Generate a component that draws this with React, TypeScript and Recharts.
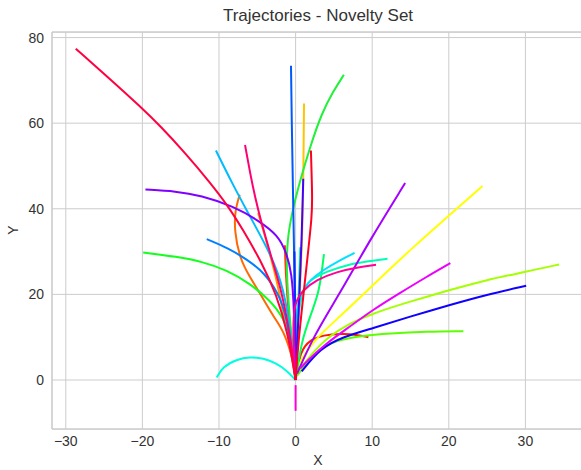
import { CartesianGrid, Line, LineChart, ReferenceLine, XAxis, YAxis } from 'recharts';

const xTicks = [-30, -20, -10, 0, 10, 20, 30];
const yTicks = [0, 20, 40, 60, 80];
const xDomain = [-31.8, 37.65];
const yDomain = [-11.45, 81.3];

// trajectories as [x, y] pairs, outer end first
const crimson = [[-28.7, 77.4], [-24.4, 70.6], [-20.1, 63.6], [-17.7, 59.4], [-14.4, 53], [-11.2, 46.2], [-8.8, 40.6], [-6.9, 35.2], [-4.4, 27.4], [-2.5, 20], [-1, 11], [0, 0]];
const redHook = [[9.5, 10], [8, 10.6], [6, 10.8], [3.6, 10.5], [1.9, 9.4], [0.6, 6.8], [0, 0]];
const redUp = [[2.0, 53.6], [2.2, 42], [2.1, 38], [1.7, 31], [1.0, 19.5], [0.3, 7.8], [0, 0]];
const redShort = [[-1.4, 31.5], [-1.3, 25], [-0.9, 15], [-0.3, 6], [0, 0]];
const orange = [[-7.3, 43.3], [-7.9, 39.7], [-8, 35], [-7.3, 28.4], [-6, 24.1], [-4.4, 19.5], [-2.9, 14.8], [-1.6, 11.7], [-0.3, 4.7], [0, 0]];
const amber = [[-4.9, 39], [-4.2, 35], [-3.3, 29], [-2.4, 23], [-1.6, 15], [-0.8, 9], [0, 0]];
const gold = [[1.1, 64.6], [1.05, 55], [1.0, 46.7], [0.9, 35], [0.6, 22], [0.3, 10], [0, 0]];
const yellow = [[24.4, 45.3], [14.9, 30.4], [9.9, 21.8], [5.8, 14.8], [2.3, 9.3], [0.2, 3]];
const chartreuse = [[34.4, 27], [30.2, 25.3], [24.9, 23.4], [20.1, 21], [14.9, 18.3], [10.1, 15.6], [6.2, 12.5], [3.2, 8.6], [0.3, 2]];
const lime = [[21.9, 11.4], [17.1, 11.3], [12.3, 10.9], [8.4, 10.3], [5.4, 9.3], [2.7, 7], [0.2, 1]];
const greenTall = [[6.3, 71.3], [4.9, 67.4], [3.4, 62.3], [1.9, 54.5], [0.6, 46.7], [-0.5, 38.9], [-1.1, 32.7], [-1.2, 25], [-0.8, 15], [0, 0]];
const greenLeft = [[-19.9, 29.8], [-15.5, 28.8], [-12.1, 27.6], [-9, 25.7], [-6, 22.6], [-3.4, 18.7], [-1.6, 14.8], [-0.3, 7.8], [0, 0]];
const springGreen = [[3.7, 29.4], [3.4, 24.9], [3.0, 20.3], [1.9, 14.8], [0.8, 9.3], [0, 0]];
const seaGreen = [[0.6, 31], [0.4, 20], [0.2, 10], [0, 0]];
const aquamarine = [[12, 28.3], [9.3, 27.7], [6.7, 26.9], [4, 25.3], [2.3, 23.8], [1, 21.8], [0.2, 15], [0, 0]];
const turquoiseArc = [[-10.3, 0.6], [-9.5, 3.1], [-7.7, 4.8], [-6, 5.4], [-4.2, 5.1], [-2.5, 3.9], [-1.2, 2.3], [0, 0]];
const cyan = [[7.7, 29.7], [5.8, 28], [3.6, 25.7], [1.9, 23.4], [0.6, 20.3], [-0.2, 14], [0, 0]];
const skyBlue = [[-10.4, 53.6], [-8.3, 46], [-6.2, 39], [-4.1, 32.2], [-2.3, 25.5], [-1, 17], [0, 0]];
const dodgerBlue = [[-11.6, 32.9], [-8.8, 30.8], [-6.2, 28], [-4, 24.9], [-2.3, 20.3], [-1.2, 15.6], [0, 0]];
const royalBlue = [[-0.6, 73.4], [-0.5, 60], [-0.35, 45], [-0.2, 30], [-0.05, 15], [0, 0]];
const blueShort = [[-0.15, 30], [-0.1, 20], [0, 10], [0, 0]];
const blue = [[30.1, 22], [24.9, 19.9], [20.1, 17.5], [14.9, 14.8], [10.1, 12.1], [6.2, 10.1], [3.2, 7.4], [0.8, 2]];
const indigo = [[1.0, 47], [0.8, 33], [0.5, 20], [0.2, 8], [0, 0]];
const violet = [[-19.6, 44.5], [-15.6, 44.1], [-12.4, 43.1], [-8.1, 40.6], [-4.7, 37.1], [-2.3, 33.8], [-1.2, 29.8], [-0.5, 25], [-0.2, 17], [0, 0]];
const purple = [[14.3, 46], [9.7, 32.7], [5.8, 20.3], [2.3, 10.1], [0.2, 1.5]];
const magenta = [[20.2, 27.3], [17.1, 24.1], [13.6, 20.3], [10.1, 16.4], [7.1, 12.5], [4, 8.6], [1.4, 4.3], [0.6, 2.7]];
const magentaDown = [[0, -1.2], [0, -7.2]];
const pink = [[10.5, 26.9], [8, 26.3], [5.4, 25.3], [2.7, 23.4], [1, 21], [-0.1, 18.3], [-0.4, 12.5], [0, 0]];
const deepPink = [[-6.6, 54.9], [-5.9, 48], [-5.3, 42.8], [-4.5, 37], [-3.8, 32.7], [-2.9, 27], [-2, 21.8], [-1.2, 15], [-0.5, 8], [0, 0]];

const trajectories = [
    redHook, redShort, orange, amber, gold, yellow, chartreuse, lime, greenLeft, greenTall,
    springGreen, seaGreen, aquamarine, turquoiseArc, cyan, skyBlue, dodgerBlue, royalBlue, blueShort, blue,
    indigo, violet, purple, magenta, magentaDown, pink, deepPink, crimson, redUp,
];
const colors = [
    '#ff1a00', '#ff3c00', '#ff6a00', '#ff9a00', '#ffc400', '#ffff00', '#a4ff00', '#5cff00', '#14ff1c', '#22f03a',
    '#00ff60', '#00ff98', '#00ffb4', '#00ffe0', '#00e1ff', '#00bcff', '#0080ff', '#0058ff', '#0030ff', '#1000ff',
    '#4400ff', '#8000ff', '#a600ff', '#ea00ff', '#ff00d4', '#ff0099', '#ff0070', '#ff0040', '#ff0020',
];

const series = trajectories.map((pts, i) => ({
    id: `traj-${i}`,
    color: colors[i],
    data: pts.map(([x, y]) => ({ x, y })),
}));

const fmt = (v: number) => (v < 0 ? `\u2212${-v}` : `${v}`);

const textColor = '#333333';
const gridColor = '#cccccc';

export default function App() {
    return (
        <div
            style={{
                position: 'absolute',
                left: 0,
                top: 0,
                width: 581,
                height: 470,
                overflow: 'hidden',
                background: '#fff',
                fontFamily: '"Liberation Sans", Arial, sans-serif',
                color: textColor,
            }}
        >
            <div style={{ position: 'absolute', left: 0, top: 6, width: 636, textAlign: 'center', fontSize: 17 }}>
                Trajectories - Novelty Set
            </div>
            <LineChart width={600} height={470} margin={{ top: 32, right: 16, bottom: 0, left: 0 }}>
                <CartesianGrid stroke={gridColor} strokeWidth={1} />
                <XAxis
                    type="number"
                    dataKey="x"
                    domain={xDomain}
                    ticks={xTicks}
                    allowDataOverflow
                    tickLine={false}
                    tickSize={0}
                    tickMargin={7}
                    height={41}
                    axisLine={{ stroke: gridColor, strokeWidth: 1.25 }}
                    tick={{ fill: textColor, fontSize: 14 }}
                    tickFormatter={fmt}
                />
                <YAxis
                    type="number"
                    dataKey="y"
                    domain={yDomain}
                    ticks={yTicks}
                    allowDataOverflow
                    width={52}
                    tickLine={false}
                    tickSize={0}
                    tickMargin={8}
                    axisLine={{ stroke: gridColor, strokeWidth: 1.25 }}
                    tick={{ fill: textColor, fontSize: 14 }}
                    tickFormatter={fmt}
                />
                <ReferenceLine y={yDomain[1]} stroke={gridColor} strokeWidth={1.25} />
                {series.map((s) => (
                    <Line
                        key={s.id}
                        data={s.data}
                        dataKey="y"
                        type="basis"
                        stroke={s.color}
                        strokeWidth={2}
                        dot={false}
                        activeDot={false}
                        isAnimationActive={false}
                    />
                ))}
            </LineChart>
            <div style={{ position: 'absolute', left: 298, top: 452, width: 40, textAlign: 'center', fontSize: 14 }}>X</div>
            <div
                style={{
                    position: 'absolute',
                    left: 13,
                    top: 230,
                    fontSize: 14,
                    transform: 'translate(-50%, -50%) rotate(-90deg)',
                }}
            >
                Y
            </div>
        </div>
    );
}
